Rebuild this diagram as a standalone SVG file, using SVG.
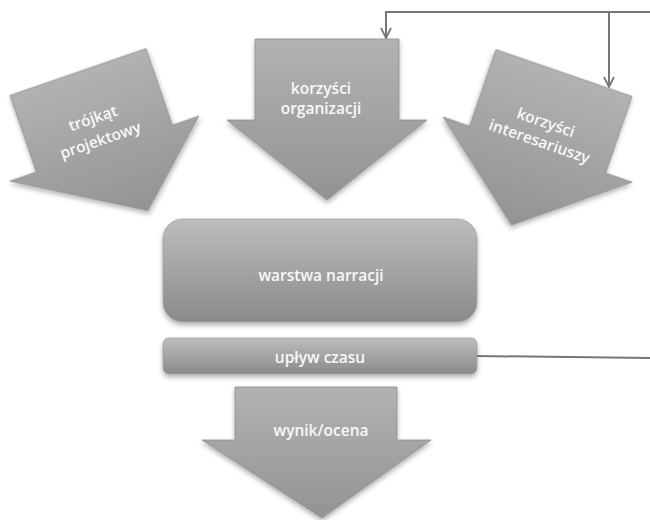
<svg xmlns="http://www.w3.org/2000/svg" width="650" height="520" viewBox="0 0 650 520">
<defs>
<linearGradient id="gArrow" x1="0" y1="0" x2="0" y2="1">
<stop offset="0" stop-color="#b2b2b2"/>
<stop offset="1" stop-color="#939393"/>
</linearGradient>
<linearGradient id="gBox" x1="0" y1="0" x2="0" y2="1">
<stop offset="0" stop-color="#bdbdbd"/>
<stop offset="1" stop-color="#8a8a8a"/>
</linearGradient>
<filter id="sh" x="-20%" y="-20%" width="140%" height="150%">
<feDropShadow dx="0" dy="3" stdDeviation="2.5" flood-color="#000" flood-opacity="0.3"/>
</filter>
<marker id="arr" viewBox="0 0 12 12" refX="11" refY="6" markerWidth="12" markerHeight="12" markerUnits="userSpaceOnUse" orient="auto">
<polyline points="1,1 11,6 1,11" fill="none" stroke="#777" stroke-width="1.8"/>
</marker>
<path id="bigArrow" d="M-72,0 H72 V81 H100 L0,161 L-100,81 H-72 Z"/>
</defs>
<style>
.shape{fill:url(#gArrow);stroke:#8e8e8e;stroke-width:0.8;filter:url(#sh)}
.box{fill:url(#gBox);stroke:#a0a0a0;stroke-width:0.8;filter:url(#sh)}
.lbl{font-family:"Open Sans","Noto Sans","Liberation Sans",sans-serif;font-size:15.5px;font-weight:600;fill:#f8f8f8;text-anchor:middle}
.conn{fill:none;stroke:#777;stroke-width:2}
</style>
<rect width="650" height="520" fill="#fff"/>

<g id="trojkat-projektowy" transform="translate(78,72) rotate(-19)">
<path class="shape" d="M-72,0 H72 V81 H100 L21,154 L-100,81 H-72 Z"/>
<text class="lbl" x="-1" y="54">trójkąt</text>
<text class="lbl" x="-1" y="77">projektowy</text>
</g>

<g id="korzysci-organizacji" transform="translate(327,39)">
<use href="#bigArrow" class="shape"/>
<text class="lbl" x="-6" y="55">korzyści</text>
<text class="lbl" x="-6" y="75">organizacji</text>
</g>

<g id="korzysci-interesariuszy" transform="translate(564,73) rotate(19)">
<use href="#bigArrow" class="shape"/>
<text class="lbl" x="-1" y="58">korzyści</text>
<text class="lbl" x="-1" y="78">interesariuszy</text>
</g>

<g id="warstwa-narracji">
<rect class="box" x="163" y="219" width="314" height="103" rx="20"/>
<text class="lbl" x="321" y="281">warstwa narracji</text>
</g>

<g id="uplyw-czasu">
<rect class="box" x="163" y="338" width="314" height="36" rx="6"/>
<text class="lbl" x="320" y="363">upływ czasu</text>
</g>

<g id="wynik-ocena">
<path class="shape" d="M235,387 H397 V440 H431 L322,518 L202,440 H235 Z"/>
<text class="lbl" x="321" y="436">wynik/ocena</text>
</g>

<g id="connectors">
<polyline class="conn" points="650,12 386,12 386,38" marker-end="url(#arr)"/>
<line class="conn" x1="609" y1="12" x2="609" y2="87" marker-end="url(#arr)"/>
<line class="conn" x1="477" y1="356" x2="650" y2="358"/>
</g>
</svg>
